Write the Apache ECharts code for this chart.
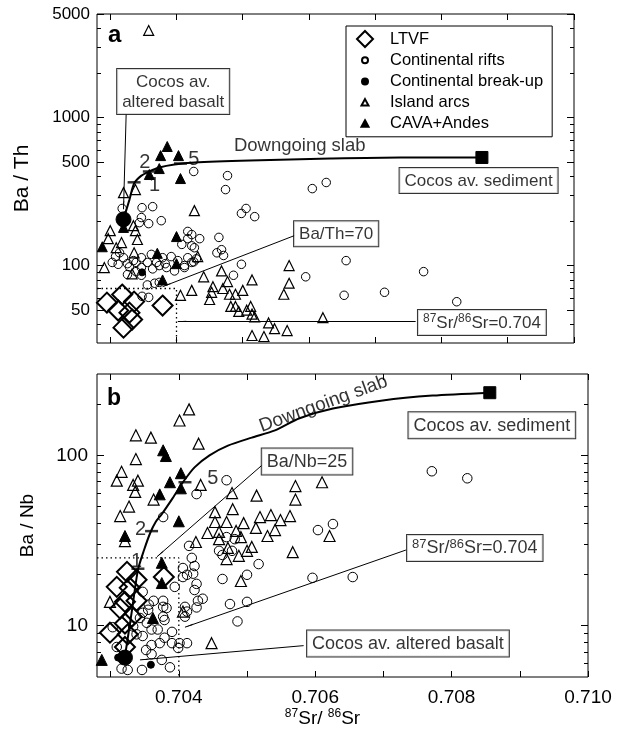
<!DOCTYPE html>
<html><head><meta charset="utf-8">
<script src="https://cdn.jsdelivr.net/npm/echarts@6/dist/echarts.min.js"></script>
<style>html,body{margin:0;padding:0;background:#fff}#c{width:618px;height:741px}</style>
</head><body><div id="c"></div>
<script>
const FONT = '"Liberation Sans", Arial, Helvetica, sans-serif';

// ---------- axis values ----------
const xRange = [0.7028, 0.7100];
const xTickValues = [0.703, 0.704, 0.705, 0.706, 0.707, 0.708, 0.709, 0.710];
const xLabelValues = [0.704, 0.706, 0.708, 0.710];
const yRangeA = [30, 5000];
const yLabelsA = [50, 100, 500, 1000, 5000];
const yMinorA = [40, 60, 70, 80, 90, 200, 300, 400, 600, 700, 800, 900, 2000, 3000, 4000];
const yRangeB = [5, 300];
const yLabelsB = [10, 100];
const yMinorB = [6, 7, 8, 9, 20, 30, 40, 50, 60, 70, 80, 90, 200];

// ---------- panel a (Ba/Th vs 87Sr/86Sr) ----------
const aLTVF = [[0.70295,56.2],[0.70318,63.7],[0.70336,57.1],[0.70312,49.7],[0.70329,48.1],[0.70333,43.2],[0.70320,38.1],[0.70379,53.7]];
const aRifts = [[0.70426,432],[0.70477,405],[0.70474,326],[0.70605,331],[0.70626,364],[0.70498,225],[0.70505,243],[0.70518,214],[0.70656,108],[0.70595,84],[0.70653,63],[0.70714,66],[0.70773,91],[0.70823,57],[0.70498,102],[0.70486,86],
 [0.70318,243],[0.70348,246],[0.70364,250],[0.70347,211],[0.70344,195],[0.70358,192],[0.70377,201],
 [0.70417,170],[0.70423,162],[0.70435,152],[0.70417,152],[0.70408,139],[0.70423,136],[0.70427,132],[0.70464,155],[0.70468,128],[0.70461,122],[0.70471,117],
 [0.70308,115],[0.70314,122],[0.70320,113],[0.70326,103],[0.70335,108],[0.70347,113],[0.70356,105],[0.70362,119],[0.70370,105],[0.70379,113],[0.70383,103],[0.70392,115],[0.70402,108],[0.70417,113],[0.70412,100],[0.70423,105],[0.70430,111],
 [0.70303,105],[0.70312,102],[0.70329,98],[0.70339,105],[0.70347,97],[0.70364,95],[0.70374,100],[0.70385,97],[0.70326,87],[0.70339,91],[0.70347,86],[0.70367,76],[0.70356,74],[0.70374,77],[0.70348,62],[0.70358,61],[0.70397,92],[0.70412,97],[0.70426,106]];
const aBreakup = [[0.70348,90]];
const aArcs = [[0.70358,3870],[0.70320,311],[0.70338,326],[0.70427,235],[0.70300,172],[0.70297,152],[0.70309,132],[0.70317,143],[0.70338,172],[0.70341,150],[0.70336,122],[0.70291,97],[0.70333,88],[0.70432,115],[0.70406,63],[0.70423,68],[0.70441,84],[0.70455,72],[0.70468,92],[0.70453,66],[0.70450,59],[0.70470,70],[0.70477,78],[0.70480,64],[0.70489,64],[0.70500,68],[0.70482,53],[0.70489,53],[0.70494,49],[0.70506,50],[0.70512,53],[0.70514,47],[0.70518,45],[0.70514,80],[0.70539,41],[0.70548,37.5],[0.70567,36.4],[0.70514,33.7],[0.70532,33.2],[0.70570,100],[0.70570,76],[0.70562,64],[0.70621,44.5],[0.70335,186]];
const aCava = [[0.70386,637],[0.70376,553],[0.70403,553],[0.70406,387],[0.70359,412],[0.70374,452],[0.70320,181],[0.70288,134],[0.70400,157],[0.70371,121],[0.70400,103],[0.70379,80]];
const aBasalt = [[0.70320,205]];
const aSediment = [[0.70861,537]];
const aMixing = [[0.70320,205],[0.70329,279],[0.70336,358],[0.70347,405],[0.70359,432],[0.70374,459],[0.70397,481],[0.70427,496],[0.70511,512],[0.70632,528],[0.70738,537],[0.70861,537]];
const aMixTicks = [[0.70336,365],[0.70359,432],[0.70406,489]];
const aMixLabels = [[0.70367,347,'1'],[0.70352,496,'2'],[0.70426,520,'5']];
const aRefLine = [[0.7028,70],[0.704,70],[0.704,30]];

// ---------- panel b (Ba/Nb vs 87Sr/86Sr) ----------
const bLTVF = [[0.70324,20.7],[0.70338,18.6],[0.70309,16.9],[0.70328,16.7],[0.70378,19.3],[0.70321,13.8],[0.70338,14.0],[0.70314,12.6],[0.70331,11.3],[0.70321,10.3],[0.70299,9.1],[0.70325,8.9],[0.70321,7.5]];
const bRifts = [[0.70604,36.4],[0.70626,39.5],[0.70771,80.6],[0.70823,73.3],[0.70596,19.1],[0.70655,19.3],[0.70426,59.2],[0.70470,71.4],[0.70377,43.4],[0.70470,33.1],[0.70459,27.5],[0.70464,26],[0.70478,27.5],[0.70517,23],[0.70500,19.9],[0.70464,18.8],[0.70475,13.4],[0.70500,13.8],[0.70486,10.6],[0.70415,29.4],[0.70419,25],[0.70423,22.4],[0.70412,19.9],[0.70421,20.2],[0.70426,17.6],[0.70423,16.2],[0.70428,14],[0.70435,14.4],[0.70426,12.8],[0.70409,11.3],[0.70412,7.9],
 [0.70347,15.8],[0.70363,14],[0.70377,14],[0.70356,13.3],[0.70377,12.9],[0.70377,11.3],[0.70347,11.9],[0.70343,11.1],[0.70353,10.4],[0.70360,9.5],[0.70369,9.5],[0.70390,9.2],[0.70333,9.9],[0.70338,8.9],[0.70347,8.7],[0.70360,7.7],[0.70372,7.9],[0.70352,7.2],[0.70360,6.8],[0.70375,6.3],[0.70387,5.7],[0.70309,7.5],[0.70303,9.8],[0.70316,5.6],[0.70325,5.5],[0.70346,5.5],[0.70401,7.9],[0.70399,7.4],[0.70409,12.9],[0.70412,12.1],[0.70406,21.8],[0.70406,19.3],[0.70482,32.2],[0.70382,12.7],[0.70379,10.8],[0.70390,7.9],[0.70379,8.5],[0.70394,16.9],[0.70355,12.4]];
const bBreakup = [[0.70359,5.9],[0.70311,6.5]];
const bArcs = [[0.70415,186],[0.70401,160],[0.70337,131],[0.70359,127],[0.70429,117],[0.70337,95],[0.70316,80],[0.70309,71],[0.70340,71],[0.70333,67],[0.70336,61],[0.70363,55],[0.70327,50],[0.70314,44],[0.70432,67],[0.70321,31.4],[0.70425,31],[0.70299,13.8],[0.70406,12.1],[0.70448,7.9],[0.70478,60],[0.70514,58],[0.70571,66],[0.70610,69.5],[0.70571,55],[0.70453,46.4],[0.70479,48.3],[0.70453,40.6],[0.70470,40.6],[0.70495,40],[0.70519,43.4],[0.70535,44.6],[0.70549,41.7],[0.70563,44],[0.70513,37.5],[0.70541,36.4],[0.70530,33.6],[0.70442,35],[0.70459,35.5],[0.70484,36],[0.70491,33.1],[0.70459,32.2],[0.70472,28.6],[0.70507,29],[0.70488,25.7],[0.70500,27.5],[0.70470,24.6],[0.70567,27],[0.70621,33.6],[0.70491,18.3]];
const bCava = [[0.70377,107],[0.70381,99],[0.70387,69.5],[0.70403,78.5],[0.70403,64],[0.70372,59],[0.70400,41],[0.70321,33.6],[0.70375,23.4],[0.70375,17.8],[0.70362,11.1],[0.70287,6.3]];
const bBasalt = [[0.70321,6.5]];
const bSediment = [[0.70856,233]];
const bMixing = [[0.70321,6.6],[0.70331,12.1],[0.70340,21.2],[0.70349,27.8],[0.70358,35],[0.70366,40.6],[0.70375,45.2],[0.70391,56.1],[0.70406,69.5],[0.70423,85],[0.70445,100],[0.70472,114],[0.70507,127],[0.70541,140],[0.70577,165],[0.70626,188],[0.70699,210],[0.70772,224],[0.70856,233]];
const bMixTicks = [[0.70340,21.6],[0.70360,35.9],[0.70409,69.5]];
const bMixLabels = [[0.70338,23.7,'1'],[0.70344,36.9,'2'],[0.70450,73,'5']];
const bRefLine = [[0.7028,25],[0.704,25],[0.704,5]];

// ---------- annotations (anchor in data space) ----------
const aBoxes = [[0.70395,1500,'Cocos av.\naltered basalt'],[0.70856,375,'Cocos av. sediment'],[0.70641,164,'Ba/Th=70'],[0.70861,41.2,'{s|87}Sr/{s|86}Sr=0.704']];
const aArrows = [[[0.70324,1047],[0.70320,240]],[[0.70579,160],[0.70379,72]],[[0.70761,42],[0.70402,42]]];
const aSlabText = [[0.70586,640,'Downgoing slab']];
const bBoxes = [[0.70859,150,'Cocos av. sediment'],[0.70588,92,'Ba/Nb=25'],[0.70834,28.6,'{s|87}Sr/{s|86}Sr=0.704'],[0.70736,7.85,'Cocos av. altered basalt']];
const bArrows = [[[0.70522,87.5],[0.70368,25.4]],[[0.70733,27.8],[0.70409,9.8]],[[0.70583,7.64],[0.70343,6.3]]];
const bSlabText = [[0.70612,200,'Downgoing slab']];

// ---------- legend ----------
const legendNames = ['LTVF','Continental rifts','Continental break-up','Island arcs','CAVA+Andes'];
const legendIcons = [
  'path://M8,0L16,8L8,16L0,8Z',
  'path://M0,0M16,16M5,8A3,3,0,1,0,11,8A3,3,0,1,0,5,8Z',
  'path://M0,0M16,16M5,8A3,3,0,1,0,11,8A3,3,0,1,0,5,8Z',
  'path://M0,0M16,16M8,4.5L11.5,11L4.5,11Z',
  'path://M0,0M16,16M8,4.5L11.5,11L4.5,11Z'
];

// ---------- helpers ----------
function xAx(grid, pos, labels, fs) {
  return {type:'value', gridIndex:grid, position:pos, min:xRange[0], max:xRange[1],
    axisLine:{show:false}, splitLine:{show:false},
    axisTick:{show:true, inside:true, length:6, customValues:xTickValues, lineStyle:{color:'#000', width:1}},
    axisLabel:{show:labels, customValues:xLabelValues, margin:11, fontSize:fs, color:'#000', fontFamily:FONT, formatter:v=>v.toFixed(3)}};
}
function yAx(grid, pos, range, ticks, len, labels, lab, fs, margin) {
  return {type:'log', logBase:10, gridIndex:grid, position:pos, min:range[0], max:range[1],
    axisLine:{show:false}, splitLine:{show:false}, minorTick:{show:false},
    axisTick:{show:true, inside:true, length:len, customValues:ticks, lineStyle:{color:'#000', width:1}},
    axisLabel:{show:labels, customValues:lab || ticks, margin:margin || 7, fontSize:fs || 17, color:'#000', fontFamily:FONT, formatter:v=>String(Math.round(v))}};
}
const XA = [0, 2], YA = [0, 4];
function pts(p, name, data, sym, size, filled, bw, z) {
  return {type:'scatter', name, data, xAxisIndex:XA[p], yAxisIndex:YA[p], symbol:sym, symbolSize:size,
    itemStyle:{color: filled ? '#000' : 'rgba(0,0,0,0)', borderColor:'#000', borderWidth:bw, opacity:1},
    z: z || 3, silent:true, clip:false};
}
function curve(p, data) {
  return {type:'line', data, xAxisIndex:XA[p], yAxisIndex:YA[p], symbol:'none', smooth:0.25,
    lineStyle:{color:'#000', width:2}, z:4, silent:true};
}
function dotted(p, data) {
  return {type:'line', data, xAxisIndex:XA[p], yAxisIndex:YA[p], symbol:'none',
    lineStyle:{color:'#000', width:1.3, type:[1.5, 3]}, z:2, silent:true};
}
function textSeries(p, rows, fs, boxed, rotate, z) {
  return {type:'scatter', xAxisIndex:XA[p], yAxisIndex:YA[p], symbolSize:1, silent:true, z: z || 10,
    itemStyle:{color:'rgba(0,0,0,0)'},
    data: rows.map(r => ({value:[r[0], r[1]], name:r[2]})),
    label:{show:true, position:'inside', formatter:'{b}', color:'#000', fontSize:fs, fontFamily:FONT,
      rotate: rotate || 0, lineHeight: fs + 3,
      backgroundColor: boxed ? '#fff' : 'transparent', borderColor: boxed ? '#000' : 'transparent',
      borderWidth: boxed ? 1 : 0, padding: boxed ? [3,5,2,5] : 0,
      rich:{s:{fontSize: Math.round(fs*0.7), lineHeight: Math.round(fs*0.6), verticalAlign:'top', fontFamily:FONT, color:'#000'}}},
    labelLayout:{hideOverlap:false}};
}
function arrows(p, list) {
  return {type:'line', xAxisIndex:XA[p], yAxisIndex:YA[p], data:[], silent:true, z:9,
    markLine:{silent:true, animation:false, symbol:['none','arrow'], symbolSize:[1,9],
      lineStyle:{color:'#000', width:1, type:'solid'}, label:{show:false},
      emphasis:{disabled:true},
      data: list.map(seg => [{coord:seg[0]}, {coord:seg[1]}])}};
}
function tickBars(p, data) {
  return {type:'scatter', data, xAxisIndex:XA[p], yAxisIndex:YA[p], symbol:'rect', symbolSize:[13,2.5],
    itemStyle:{color:'#000'}, z:5, silent:true};
}

const option = {
  animation:false,
  backgroundColor:'#fff',
  textStyle:{fontFamily:FONT},
  grid:[
    {left:97, top:14, width:477, height:329, show:true, borderColor:'#000', borderWidth:1, backgroundColor:'transparent'},
    {left:97, top:374, width:491, height:303, show:true, borderColor:'#000', borderWidth:1, backgroundColor:'transparent'}
  ],
  xAxis:[
    xAx(0,'bottom',false,17),
    xAx(0,'top',false,17),
    Object.assign(xAx(1,'bottom',true,19), {name:'{s|87}{m|Sr/ }{s|86}{m|Sr}', nameLocation:'middle', nameGap:30,
      nameTextStyle:{color:'#000', fontSize:19, fontFamily:FONT, padding:[0,40,0,0],
        rich:{m:{fontSize:19, lineHeight:22, fontFamily:FONT, color:'#000'}, s:{fontSize:12, lineHeight:12, verticalAlign:'top', fontFamily:FONT, color:'#000'}}}}),
    xAx(1,'top',false,19)
  ],
  yAxis:[
    Object.assign(yAx(0,'left',yRangeA,yLabelsA,7,true,yLabelsA,17,7), {name:'Ba / Th', nameLocation:'middle', nameGap:64,
      nameTextStyle:{color:'#000', fontSize:21, fontFamily:FONT}}),
    yAx(0,'left',yRangeA,yMinorA,4,false),
    yAx(0,'right',yRangeA,yLabelsA,7,false),
    yAx(0,'right',yRangeA,yMinorA,4,false),
    Object.assign(yAx(1,'left',yRangeB,yLabelsB,7,true,yLabelsB,19,9), {name:'Ba / Nb', nameLocation:'middle', nameGap:60,
      nameTextStyle:{color:'#000', fontSize:19, fontFamily:FONT}}),
    yAx(1,'left',yRangeB,yMinorB,4,false),
    yAx(1,'right',yRangeB,yLabelsB,7,false),
    yAx(1,'right',yRangeB,yMinorB,4,false)
  ],
  legend:{
    left:346, top:26, orient:'vertical', selectedMode:false,
    backgroundColor:'#fff', borderColor:'#000', borderWidth:1, padding:[4,9,4,10],
    itemWidth:40, itemHeight:16, itemGap:3.2,
    textStyle:{color:'#000', fontSize:16.5, fontFamily:FONT},
    data: legendNames.map((n,i) => ({name:n, icon:legendIcons[i]})),
    z:20
  },
  graphic:[
    {type:'text', left:108, top:23, z:30, style:{text:'a', font:'bold 24px "Liberation Sans", Arial, sans-serif', fill:'#000'}},
    {type:'text', left:107, top:387, z:30, style:{text:'b', font:'bold 23px "Liberation Sans", Arial, sans-serif', fill:'#000'}}
  ],
  series:[
    // panel a
    dotted(0, aRefLine),
    curve(0, aMixing),
    tickBars(0, aMixTicks),
    pts(0,'Continental rifts', aRifts, 'circle', 8.5, false, 1),
    pts(0,'Island arcs', aArcs, 'triangle', 10, false, 1.2),
    pts(0,'CAVA+Andes', aCava, 'triangle', 10, true, 1),
    pts(0,'Continental break-up', aBreakup, 'circle', 7, true, 1),
    pts(0,'LTVF', aLTVF, 'diamond', 20, false, 2, 4),
    pts(0,'Cocos basalt a', aBasalt, 'circle', 15, true, 1, 5),
    pts(0,'Cocos sediment a', aSediment, 'rect', 12, true, 1, 5),
    textSeries(0, aMixLabels, 20, false),
    textSeries(0, aSlabText, 18.5, false),
    arrows(0, aArrows),
    textSeries(0, aBoxes, 17, true, 0, 11),
    // panel b
    dotted(1, bRefLine),
    curve(1, bMixing),
    tickBars(1, bMixTicks),
    pts(1,'Continental rifts', bRifts, 'circle', 9.5, false, 1),
    pts(1,'Island arcs', bArcs, 'triangle', 11, false, 1.2),
    pts(1,'CAVA+Andes', bCava, 'triangle', 11, true, 1),
    pts(1,'Continental break-up', bBreakup, 'circle', 7, true, 1),
    pts(1,'LTVF', bLTVF, 'diamond', 20, false, 2, 4),
    pts(1,'Cocos basalt b', bBasalt, 'circle', 15, true, 1, 5),
    pts(1,'Cocos sediment b', bSediment, 'rect', 12, true, 1, 5),
    textSeries(1, bMixLabels, 20, false),
    textSeries(1, bSlabText, 19, false, 20),
    arrows(1, bArrows),
    textSeries(1, bBoxes, 18, true, 0, 11)
  ]
};
const chart = echarts.init(document.getElementById('c'), null, {renderer:'canvas'});
chart.setOption(option);
</script></body></html>
